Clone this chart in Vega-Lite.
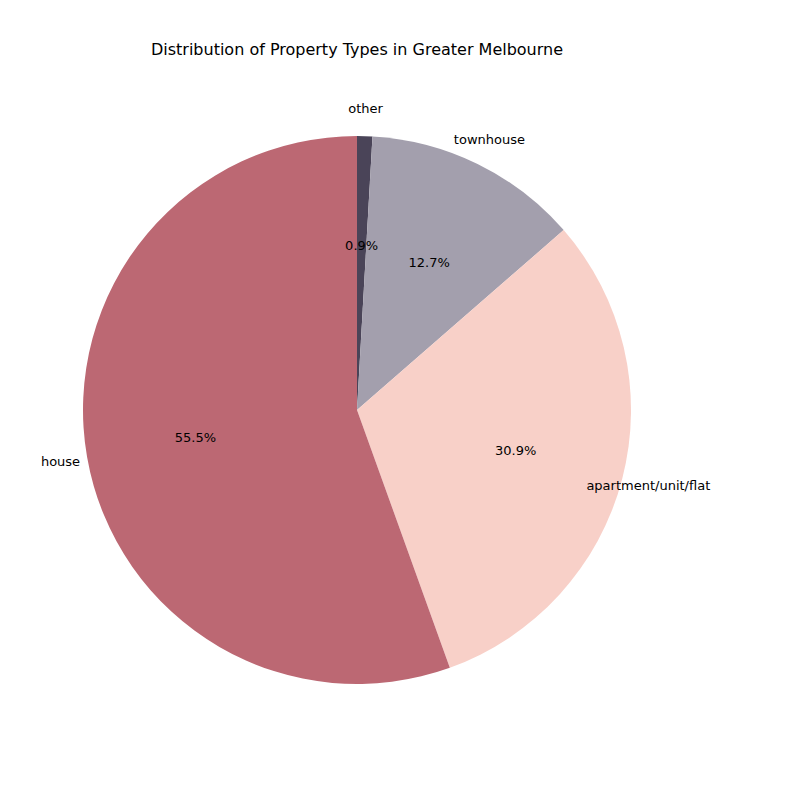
{
  "$schema": "https://vega.github.io/schema/vega-lite/v6.json",
  "autosize": "none",
  "width": 714,
  "height": 780,
  "padding": {"left": 0, "top": 20, "right": 0, "bottom": 0},
  "background": "white",
  "title": {"text": "Distribution of Property Types in Greater Melbourne", "font": "DejaVu Sans", "fontSize": 16, "fontWeight": "normal", "dy": 42, "anchor": "middle"},
  "data": {"values": [
    {"type": "other", "pct": 0.9, "label": "0.9%", "o": 1},
    {"type": "townhouse", "pct": 12.7, "label": "12.7%", "o": 2},
    {"type": "apartment/unit/flat", "pct": 30.9, "label": "30.9%", "o": 3},
    {"type": "house", "pct": 55.5, "label": "55.5%", "o": 4}
  ]},
  "encoding": {
    "theta": {"field": "pct", "type": "quantitative", "stack": true},
    "order": {"field": "o", "type": "quantitative"}
  },
  "view": {"stroke": null},
  "layer": [
    {"mark": {"type": "arc", "outerRadius": 274},
     "encoding": {"color": {"field": "type", "type": "nominal", "legend": null,
       "scale": {"domain": ["other", "townhouse", "apartment/unit/flat", "house"], "range": ["#4a4458", "#a39fad", "#f8d0c8", "#bc6873"]}}}},
    {"mark": {"type": "text", "radius": 301, "font": "DejaVu Sans", "fontSize": 13, "color": "black"},
     "encoding": {"text": {"field": "type"}}},
    {"mark": {"type": "text", "radius": 164, "font": "DejaVu Sans", "fontSize": 13, "color": "black"},
     "encoding": {"text": {"field": "label"}}}
  ]
}
